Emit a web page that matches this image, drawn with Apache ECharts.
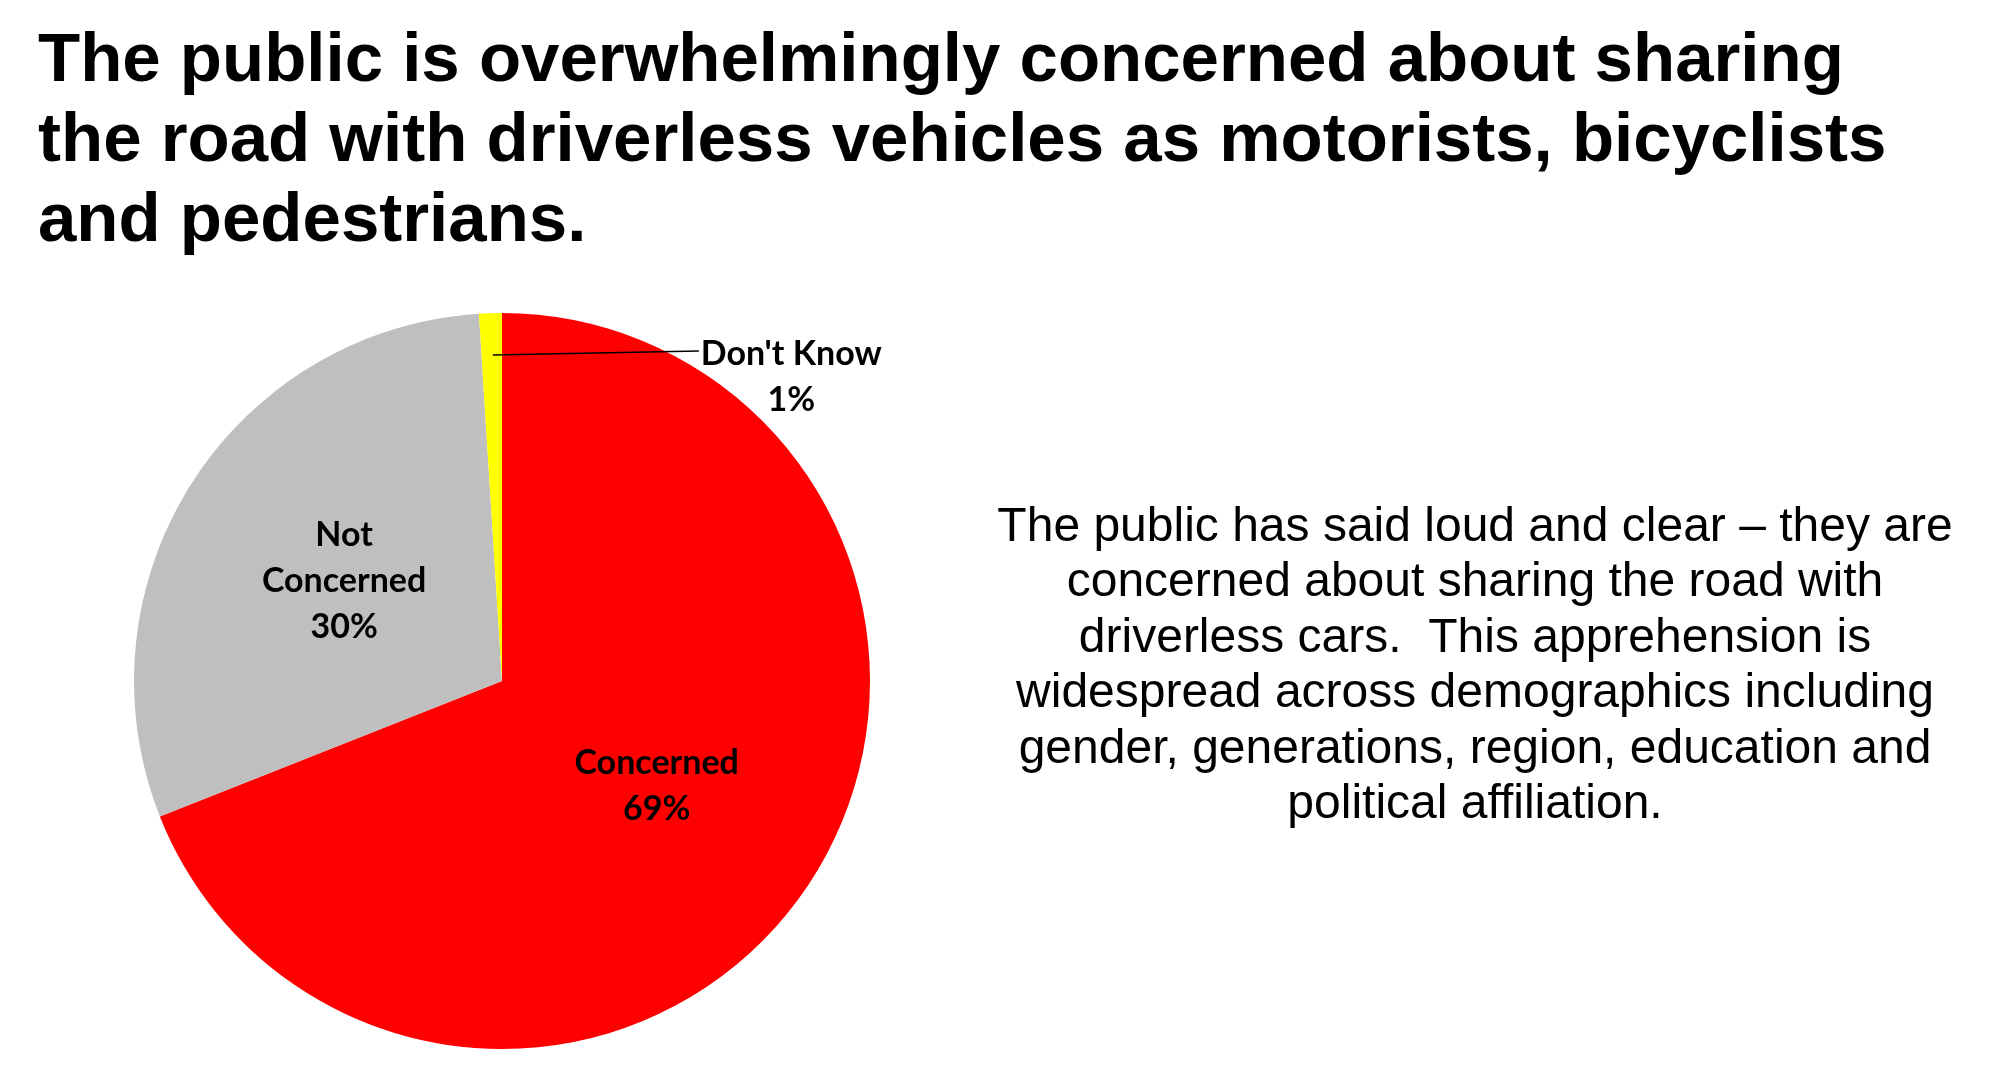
<!DOCTYPE html>
<html>
<head>
<meta charset="utf-8">
<style>
  html, body { margin: 0; padding: 0; background: #ffffff; }
  #chart { width: 1993px; height: 1082px; }
</style>
<script src="https://cdn.jsdelivr.net/npm/echarts@6/dist/echarts.min.js"></script>
</head>
<body>
<div id="chart"></div>
<script>
const categories = ["Concerned", "Not\nConcerned", "Don't Know"];
const values = [69, 30, 1];
const colors = ["#FF0000", "#BFBFBF", "#FFFF00"];
const titleLines = [
  "The public is overwhelmingly concerned about sharing",
  "the road with driverless vehicles as motorists, bicyclists",
  "and pedestrians."
];
const noteLines = [
  "The public has said loud and clear \u2013 they are",
  "concerned about sharing the road with",
  "driverless cars.  This apprehension is",
  "widespread across demographics including",
  "gender, generations, region, education and",
  "political affiliation."
];

const CX = 502, CY = 681, R = 368;
const labelFont = "Lato";

const chart = echarts.init(document.getElementById('chart'), null, { renderer: 'canvas' });

const data = categories.map((c, i) => {
  const d = { name: c, value: values[i], itemStyle: { color: colors[i] } };
  if (i === 2) {
    d.label = { position: 'outside' };
  }
  return d;
});

chart.setOption({
  backgroundColor: '#ffffff',
  animation: false,
  graphic: [
    {
      type: 'text',
      left: 38,
      top: 22,
      style: {
        text: titleLines.join('\n'),
        font: 'bold 69px "Liberation Sans", Arial, sans-serif',
        lineHeight: 80,
        fill: '#000'
      }
    },
    {
      type: 'text',
      x: 1475,
      y: 500,
      style: {
        text: noteLines.join('\n'),
        font: '48px "Liberation Sans", Arial, sans-serif',
        lineHeight: 55.4,
        fill: '#000',
        align: 'center',
        verticalAlign: 'top'
      }
    },
    {
      type: 'line',
      z: 100,
      shape: {
        x1: CX - 0.025 * R, y1: CY - 0.886 * R,
        x2: CX + 0.535 * R, y2: CY - 0.897 * R
      },
      style: { stroke: '#000', lineWidth: 1.5 }
    }
  ],
  series: [{
    type: 'pie',
    center: [CX, CY],
    radius: [0, R],
    startAngle: 90,
    clockwise: true,
    avoidLabelOverlap: false,
    itemStyle: { borderWidth: 0 },
    label: {
      show: true,
      position: 'inside',
      formatter: function (p) { return p.name + '\n' + Math.round(p.percent) + '%'; },
      fontFamily: labelFont,
      fontWeight: 'bold',
      fontSize: 34,
      lineHeight: 46,
      color: '#000',
      align: 'center'
    },
    labelLine: { show: false },
    labelLayout: function (params) {
      if (params.dataIndex !== 2) return {};
      return {
        x: CX + 0.786 * R,
        y: CY - 0.826 * R,
        align: 'center',
        verticalAlign: 'middle'
      };
    },
    data: data
  }]
});
</script>
</body>
</html>
